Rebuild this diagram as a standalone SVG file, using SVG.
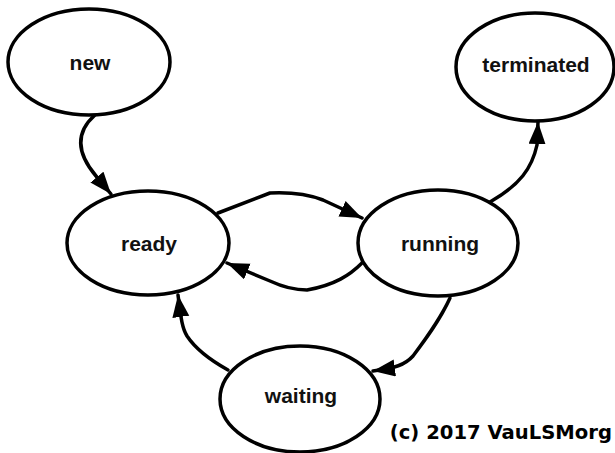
<svg xmlns="http://www.w3.org/2000/svg" width="615" height="453" viewBox="0 0 615 453">
<style>
.node ellipse{fill:#fff;stroke:#000;stroke-width:3.5}
.node text{font-family:"Liberation Sans",Arial,sans-serif;font-weight:bold;font-size:21px;fill:#111;text-anchor:middle}
.edge{fill:none;stroke:#000;stroke-width:3.5;stroke-linecap:round;stroke-linejoin:round}
.credit{font-family:"DejaVu Sans",sans-serif;font-weight:bold;font-size:19.6px;fill:#000;text-anchor:end}
</style>
<defs>
<marker id="arr" markerUnits="userSpaceOnUse" markerWidth="24" markerHeight="18" refX="22" refY="8.5" orient="auto">
<path d="M0,0 L22,8.5 L0,17 z" fill="#000"/>
</marker>
</defs>
<rect width="615" height="453" fill="#fff"/>
<g id="connectors">
<path class="edge" d="M95,115 C78,130 74,150 96,176 L111,194" marker-end="url(#arr)"/>
<path class="edge" d="M490,202 C520,185 532,168 537,145 L538,122" marker-end="url(#arr)"/>
<path class="edge" d="M218,213 L270,193 C290,192 310,195 323,200 L362,218" marker-end="url(#arr)"/>
<path class="edge" d="M362,263 C350,275 335,285 307,290 C295,290 285,288 270,281 L227,263" marker-end="url(#arr)"/>
<path class="edge" d="M450,298 C440,320 425,340 413,356 C405,365 395,368 373,371" marker-end="url(#arr)"/>
<path class="edge" d="M228,370 C210,360 195,348 187,336 C182,328 181,318 178,295" marker-end="url(#arr)"/>
</g>
<g id="new" class="node"><ellipse cx="89" cy="62" rx="81" ry="53"/><text x="90" y="70">new</text></g>
<g id="terminated" class="node"><ellipse cx="535" cy="67" rx="79" ry="54"/><text x="536" y="72">terminated</text></g>
<g id="ready" class="node"><ellipse cx="148" cy="243" rx="81" ry="52"/><text x="149" y="251">ready</text></g>
<g id="running" class="node"><ellipse cx="438" cy="243" rx="80" ry="53"/><text x="440" y="251">running</text></g>
<g id="waiting" class="node"><ellipse cx="300" cy="399" rx="80" ry="53"/><text x="301" y="403">waiting</text></g>
<text class="credit" x="612" y="439">(c) 2017 VauLSMorg</text>
</svg>
